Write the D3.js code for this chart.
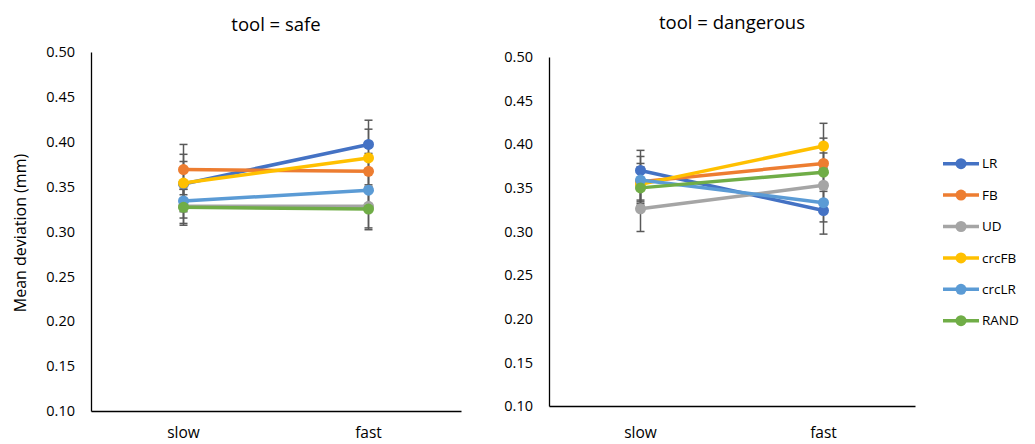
<html lang="en">
<head>
<meta charset="UTF-8">
<title>Mean deviation by tool</title>
<script src="https://cdn.jsdelivr.net/npm/d3@7"></script>
<style>
  body { margin: 0; background: #fff; }
  text { font-family: "Open Sans", sans-serif; fill: #000; }
</style>
</head>
<body>
<svg id="svg"></svg>
<script>
var WIDTH = 1035, HEIGHT = 444;

// data
var categories = ["slow", "fast"];
var seriesNames = ["LR", "FB", "UD", "crcFB", "crcLR", "RAND"];
var seriesColors = ["#4472C4", "#ED7D31", "#A5A5A5", "#FFC000", "#5B9BD5", "#70AD47"];
var yTicks = [0.10, 0.15, 0.20, 0.25, 0.30, 0.35, 0.40, 0.45, 0.50];

// tool = safe (one row per series: slow, fast)
var safeMeans = [[0.353, 0.397], [0.369, 0.367], [0.328, 0.328], [0.354, 0.382], [0.334, 0.346], [0.327, 0.325]];
var safeErr   = [[0.025, 0.027], [0.028, 0.020], [0.019, 0.024], [0.032, 0.032], [0.019, 0.020], [0.020, 0.023]];
// tool = dangerous
var dangerMeans = [[0.370, 0.324], [0.357, 0.378], [0.326, 0.353], [0.354, 0.398], [0.359, 0.333], [0.350, 0.368]];
var dangerErr   = [[0.023, 0.027], [0.021, 0.029], [0.026, 0.020], [0.020, 0.026], [0.027, 0.022], [0.020, 0.022]];

var svg = d3.select("#svg").attr("width", WIDTH).attr("height", HEIGHT);

function drawPanel(opt) {
    var xScale = d3.scaleBand().domain(categories).range([opt.x0, opt.x1]).padding(0);
    var yScale = d3.scaleLinear().domain([0.10, 0.50]).range([opt.y1, opt.y0]);
    var cx = function(c){ return xScale(c) + xScale.bandwidth() / 2; };

    var g = svg.append("g");

    // title
    g.append("text")
     .attr("x", (opt.x0 + opt.x1) / 2)
     .attr("y", opt.titleY)
     .attr("text-anchor", "middle")
     .attr("font-size", "18.5px")
     .text(opt.title);

    // y axis
    var yAxis = d3.axisLeft(yScale).tickValues(yTicks).tickFormat(d3.format(".2f"))
                  .tickSize(0).tickPadding(16);
    var ya = g.append("g").attr("transform", "translate(" + opt.x0 + ",0)").call(yAxis);
    ya.select(".domain").attr("stroke", "#000").attr("stroke-width", 1.3);
    ya.selectAll("text").attr("font-size", "14.5px").attr("font-family", "'Open Sans', sans-serif");

    // x axis
    var xAxis = d3.axisBottom(xScale).tickSize(0).tickPadding(opt.xPad);
    var xa = g.append("g").attr("transform", "translate(0," + opt.y1 + ")").call(xAxis);
    xa.select(".domain").attr("stroke", "#000").attr("stroke-width", 1.3);
    xa.selectAll("text").attr("font-size", "15.5px").attr("font-family", "'Open Sans', sans-serif");

    var rows = seriesNames.map(function(name, i){
        return { name: name, color: seriesColors[i],
                 pts: categories.map(function(c, j){ return { cat: c, v: opt.means[i][j], e: opt.errs[i][j] }; }) };
    });

    // error bars
    var eb = g.append("g").attr("stroke", "#595959").attr("stroke-width", 1.5);
    rows.forEach(function(r){
        r.pts.forEach(function(p){
            var x = cx(p.cat);
            eb.append("line").attr("x1", x).attr("x2", x)
              .attr("y1", yScale(p.v - p.e)).attr("y2", yScale(p.v + p.e));
            [p.v - p.e, p.v + p.e].forEach(function(v){
                eb.append("line").attr("x1", x - 4).attr("x2", x + 4)
                  .attr("y1", yScale(v)).attr("y2", yScale(v));
            });
        });
    });

    // lines and markers
    var line = d3.line().x(function(p){ return cx(p.cat); }).y(function(p){ return yScale(p.v); });
    rows.forEach(function(r){
        g.append("path").datum(r.pts)
         .attr("d", line).attr("fill", "none")
         .attr("stroke", r.color).attr("stroke-width", 3.5);
        g.selectAll(null).data(r.pts).enter().append("circle")
         .attr("cx", function(p){ return cx(p.cat); })
         .attr("cy", function(p){ return yScale(p.v); })
         .attr("r", 5.5).attr("fill", r.color);
    });
}

drawPanel({ x0: 91, x1: 461, y0: 52, y1: 411, title: "tool = safe", titleY: 31, xPad: 16,
            means: safeMeans, errs: safeErr });
drawPanel({ x0: 549, x1: 915, y0: 57, y1: 406, title: "tool = dangerous", titleY: 29, xPad: 21,
            means: dangerMeans, errs: dangerErr });

// y axis title
svg.append("text")
   .attr("transform", "translate(26,233) rotate(-90)")
   .attr("text-anchor", "middle")
   .attr("font-size", "16px")
   .text("Mean deviation (mm)");

// legend
var legend = svg.append("g");
seriesNames.forEach(function(name, i){
    var y = 163.7 + i * 31.4;
    legend.append("line").attr("x1", 943).attr("x2", 979).attr("y1", y).attr("y2", y)
          .attr("stroke", seriesColors[i]).attr("stroke-width", 3.5);
    legend.append("circle").attr("cx", 961).attr("cy", y).attr("r", 5.5).attr("fill", seriesColors[i]);
    legend.append("text").attr("x", 982).attr("y", y).attr("dy", "0.35em")
          .attr("font-size", "13.5px").attr("fill", "#595959").text(name);
});
</script>
</body>
</html>
